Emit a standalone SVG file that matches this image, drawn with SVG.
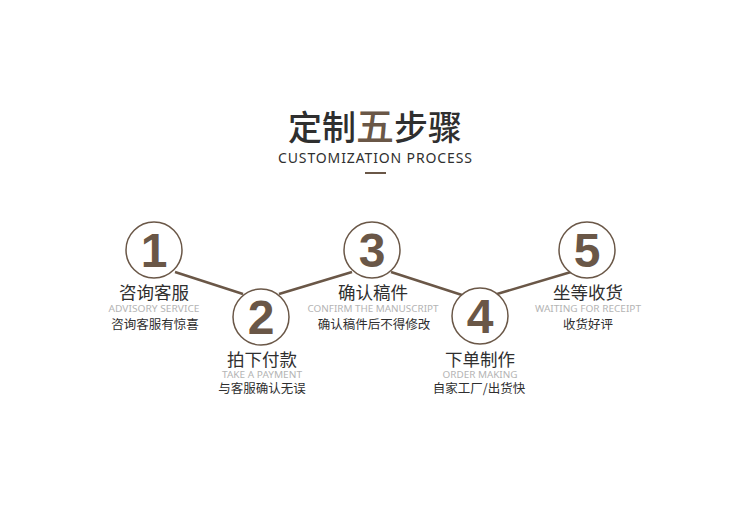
<svg xmlns="http://www.w3.org/2000/svg" width="750" height="505" viewBox="0 0 750 505">
<style>
.cn{font-family:"Noto Sans CJK SC","Noto Sans",sans-serif;text-anchor:middle;fill:#2f2f2f}
.t{font-size:17.5px}
.s{font-size:12.5px}
.en{font-family:"Noto Sans","Liberation Sans",sans-serif;font-size:9px;fill:#b4b4b4;text-anchor:middle}
.num{font-family:"Liberation Sans",Arial,sans-serif;font-weight:bold;font-size:48px;fill:#6a5747;text-anchor:middle}
.ring{fill:#fff;stroke:#6a5747;stroke-width:1.5}
.ln{stroke:#6a5747;stroke-width:2.5;fill:none}
</style>
<rect width="750" height="505" fill="#fff"/>
<g id="title">
<text x="375" y="140" class="cn" style="font-size:34px;font-weight:500">定制<tspan fill="#6a5747" style="font-size:38px">五</tspan>步骤</text>
<text x="375" y="163" class="cn" style="font-size:14px;font-family:'Noto Sans','Liberation Sans',sans-serif" textLength="194" lengthAdjust="spacing">CUSTOMIZATION PROCESS</text>
<rect x="365" y="172" width="21" height="2" fill="#6a5747"/>
</g>
<g id="connectors">
<line class="ln" x1="175" y1="272" x2="243" y2="294"/>
<line class="ln" x1="279" y1="294" x2="352" y2="272"/>
<line class="ln" x1="391" y1="272" x2="462" y2="295"/>
<line class="ln" x1="497" y1="294" x2="571" y2="272"/>
</g>
<g id="step1">
<circle class="ring" cx="154" cy="250" r="28"/>
<text class="num" x="154" y="267">1</text>
<text class="cn t" x="154" y="298.5">咨询客服</text>
<text class="en" x="154" y="311.5" textLength="91" lengthAdjust="spacingAndGlyphs">ADVISORY SERVICE</text>
<text class="cn s" x="155" y="328.5">咨询客服有惊喜</text>
</g>
<g id="step2">
<circle class="ring" cx="261" cy="317" r="28"/>
<text class="num" x="261" y="334">2</text>
<text class="cn t" x="262" y="365.5">拍下付款</text>
<text class="en" x="262" y="378" textLength="80" lengthAdjust="spacingAndGlyphs">TAKE A PAYMENT</text>
<text class="cn s" x="262" y="393">与客服确认无误</text>
</g>
<g id="step3">
<circle class="ring" cx="372" cy="250" r="28"/>
<text class="num" x="372" y="267">3</text>
<text class="cn t" x="373" y="298.5">确认稿件</text>
<text class="en" x="373" y="311.5" textLength="131" lengthAdjust="spacingAndGlyphs">CONFIRM THE MANUSCRIPT</text>
<text class="cn s" x="374" y="328.5">确认稿件后不得修改</text>
</g>
<g id="step4">
<circle class="ring" cx="480" cy="316" r="28"/>
<text class="num" x="480" y="333">4</text>
<text class="cn t" x="480" y="365.5">下单制作</text>
<text class="en" x="480" y="378" textLength="75" lengthAdjust="spacingAndGlyphs">ORDER MAKING</text>
<text class="cn s" x="479" y="393">自家工厂/出货快</text>
</g>
<g id="step5">
<circle class="ring" cx="587" cy="250" r="28"/>
<text class="num" x="587" y="267">5</text>
<text class="cn t" x="588" y="298.5">坐等收货</text>
<text class="en" x="588" y="311.5" textLength="106" lengthAdjust="spacingAndGlyphs">WAITING FOR RECEIPT</text>
<text class="cn s" x="588" y="328.5">收货好评</text>
</g>
</svg>
